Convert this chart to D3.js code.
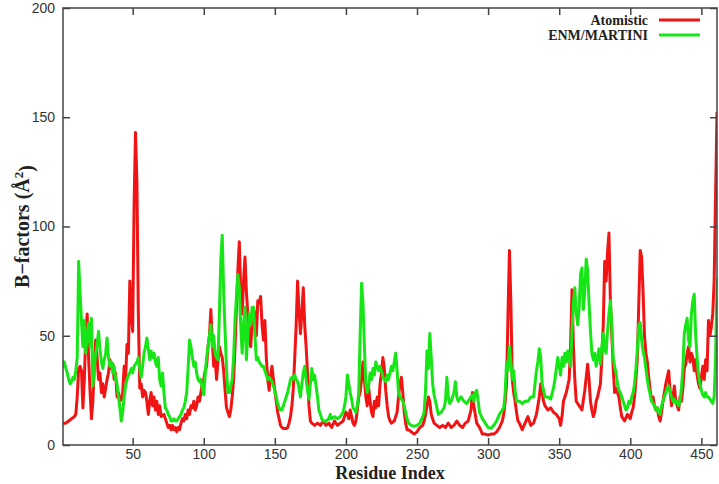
<!DOCTYPE html>
<html><head><meta charset="utf-8">
<script src="https://cdn.jsdelivr.net/npm/d3@7"></script>
<style>html,body{margin:0;padding:0;background:#fff;} svg{display:block;}</style>
</head><body><svg id="chart" width="719" height="484"></svg>
<script>
// ---------- data ----------
const xTicks = [50, 100, 150, 200, 250, 300, 350, 400, 450];
const yTicks = [0, 50, 100, 150, 200];
const seriesNames = ["Atomistic", "ENM/MARTINI"];

const atomisticResidue = [
1,3,5,7,9,10,11,12,13,14,
15,16,17,18,19,20,21,22,23,24,
25,26,27,28,29,30,31,32,33,34,
35,36,37,38,39,40,41,42,43,44,
45,46,47,48,49,50,51,52,53,54,
55,56,57,58,59,60,61,62,63,64,
65,66,67,68,69,70,72,73,74,75,
76,77,78,79,80,81,82,83,84,85,
86,87,88,89,90,91,92,93,94,95,
96,97,98,99,100,101,102,103,104,105,
106,107,108,109,110,111,112,113,114,115,
116,117,118,119,120,121,122,123,124,125,
126,127,128,129,130,131,132,133,134,135,
136,137,138,139,140,141,142,143,144,145,
146,147,148,149,150,151,152,153,154,155,
156,157,158,159,160,161,162,163,164,165,
166,167,168,169,170,171,172,173,174,175,
176,178,180,182,184,186,188,190,192,194,
196,198,199,200,201,202,203,204,205,206,
207,208,209,210,211,212,213,214,215,216,
217,218,219,220,221,222,223,224,225,226,
227,228,229,230,231,232,234,236,237,238,
239,240,241,242,243,244,246,248,250,252,
254,255,256,257,258,259,260,261,262,264,
266,268,270,272,274,276,278,280,282,284,
286,288,289,290,291,292,293,294,296,298,
300,302,304,306,308,310,311,312,313,314,
315,316,317,318,319,320,321,322,324,326,
328,330,332,334,336,337,338,339,340,342,
344,346,348,350,351,352,353,355,357,358,
359,360,361,362,364,366,368,370,371,372,
373,374,375,376,377,378,379,380,381,382,
383,384,385,386,387,388,389,390,392,393,
394,395,396,398,400,401,402,403,404,405,
406,407,408,409,410,411,412,413,414,415,
416,417,418,419,420,421,422,423,424,425,
426,427,428,429,430,431,432,434,435,436,
437,438,439,440,441,442,443,444,445,446,
447,448,449,450,451,452,453,454,455,456,
457,458,459,460,461];
const atomisticB = [
10,10,11,12,13,14,22,35,36,34,
17,30,50,60,40,25,12,20,35,48,
40,30,33,24,28,22,26,30,33,39,
35,37,30,33,22,24,20,21,24,36,
30,46,42,75,60,52,110,143,120,60,
26,28,22,25,24,20,14,20,24,18,
22,16,20,14,18,13,14,12,10,8,
9,7,9,7,8,6,8,7,10,12,
11,14,12,16,14,18,17,20,16,18,
22,20,24,28,30,34,36,45,50,62,
48,36,40,30,38,45,42,40,34,25,
17,15,13,16,22,30,45,63,80,93,
70,60,75,86,70,60,50,45,55,62,
60,50,66,65,68,55,48,57,40,30,
25,32,36,30,25,20,15,12,9,8,
7.5,7.5,7.5,8,10,13,18,26,40,55,
75,62,51,60,72,55,45,33,18,11,
10,9,10,9,11,9,10,8,11,9,
10,11,13,15,14,12,16,13,10,9,
11,16,22,24,30,38,30,22,18,26,
20,15,13,20,17,22,18,28,33,40,
35,25,18,13,11,10,11,15,22,28,
31,24,15,10,7,7,6,5,6,8,
9,11,14,18,22,20,14,12,10,9,
8,9,8,10,8,9,11,9,8,10,
11,16,24,18,14,10,9,8,5,5,
4.6,5,5,6,8,11,14,20,28,60,
89,66,30,24,20,15,11,10,7,10,
13,9,10,14,22,28,24,20,18,16,
17,15,14,12,9,13,20,24,30,45,
71,45,30,20,18,16,25,37,30,20,
16,13,15,20,22,25,28,40,55,84,
75,88,97,66,51,35,24,26,22,17,
13,12,11,14,12,15,17,22,30,40,
65,89,86,70,50,42,38,31,25,20,
22,18,16,17,13,11,15,20,24,28,
31,34,25,18,22,27,20,16,22,20,
26,35,37,42,45,38,42,40,34,39,
32,28,26,31,36,30,39,34,57,50,
54,60,75,115,152];

const martiniResidue = [
1,2,3,4,5,6,7,8,9,10,
11,12,13,14,15,16,17,18,19,20,
21,22,23,24,25,26,27,28,29,30,
31,32,33,34,35,36,37,38,39,40,
41,42,43,44,45,46,47,48,49,50,
51,52,53,54,55,56,57,58,59,60,
61,62,63,64,65,66,67,68,69,70,
71,72,73,74,75,76,77,78,79,80,
81,82,83,84,85,86,87,88,89,90,
91,92,93,94,95,96,97,98,99,100,
101,102,103,104,105,106,107,108,109,110,
111,112,113,114,115,116,117,118,119,120,
121,122,123,124,125,126,127,128,129,130,
131,132,133,134,135,136,137,138,139,140,
141,142,143,144,145,146,147,148,149,150,
151,152,153,154,155,156,157,158,159,160,
161,162,163,164,165,166,167,168,169,170,
171,172,173,174,175,176,177,178,179,180,
181,182,183,184,186,188,189,190,192,194,
196,197,198,199,200,201,202,203,204,205,
206,207,208,209,210,211,212,213,214,215,
216,217,218,219,220,221,222,223,224,225,
226,227,228,229,230,231,232,233,234,235,
236,237,238,239,240,241,242,243,244,246,
248,250,252,254,255,256,257,258,259,260,
261,262,263,264,265,267,269,270,271,272,
273,274,275,276,277,278,279,281,283,285,
287,289,290,291,292,293,294,296,298,300,
302,304,306,308,310,311,312,313,314,315,
316,317,318,319,320,322,324,326,328,330,
332,333,334,335,336,337,338,339,340,342,
344,346,347,348,349,350,351,352,353,354,
355,356,357,358,359,360,361,362,363,364,
365,366,367,368,369,370,371,372,373,374,
375,376,377,378,379,380,381,382,383,384,
385,386,387,388,389,390,391,392,393,394,
395,396,397,398,399,400,401,402,403,404,
405,406,407,408,409,410,411,412,413,414,
415,416,417,418,419,420,421,422,423,424,
425,426,427,428,429,430,431,432,433,434,
435,436,437,438,439,440,441,442,443,444,
445,446,447,448,449,450,451,452,453,454,
455,456,457,458,459,460,461];
const martiniB = [
36,38,35,33,30,28,29,31,30,34,
40,84,70,57,45,57,42,50,56,45,
58,27,35,42,46,52,44,38,35,39,
42,49,40,36,38,33,36,30,28,22,
17,11,15,22,27,30,32,33,35,33,
36,37,38,40,35,31,36,42,45,49,
44,39,43,40,42,38,36,40,30,27,
33,24,17,16,14,13,11,11,12,11,
11,12,13,14,16,17,20,24,35,48,
45,40,36,38,33,30,29,30,26,23,
32,40,45,50,55,45,50,42,40,39,
60,85,96,70,52,35,24,24,27,30,
40,57,68,78,72,55,42,55,63,39,
50,60,55,63,63,50,39,40,38,37,
36,36,34,32,30,31,30,29,27,25,
22,19,17,16,16,18,20,22,24,27,
30,31,30,32,30,29,26,22,28,33,
36,30,25,21,28,35,30,32,27,22,
16,14,12,11,11,12,14,12,13,12,
13,14,15,18,22,32,28,24,21,17,
16,15,18,24,50,74,65,45,28,24,
27,33,30,35,32,38,36,34,36,34,
31,30,29,32,30,33,36,34,38,42,
34,24,22,21,20,18,15,12,10,9,
8.5,9,10,13,15,25,43,35,51,40,
28,23,20,17,14,15,17,20,31,22,
19,20,22,24,29,22,20,22,20,19,
21,23,20,24,25,20,15,12,10,8,
7.6,9,11,14,16,17,24,38,34,45,
38,30,34,25,20,20,19,20,20,22,
22,28,34,38,44,40,28,25,22,22,
21,26,30,35,40,36,32,40,36,42,
38,43,40,36,52,65,72,60,55,62,
78,81,62,70,85,80,65,52,42,39,
42,36,40,44,37,45,51,44,42,52,
60,66,55,40,36,33,28,25,24,22,
20,18,16,17,20,19,22,24,28,35,
44,55,56,48,43,40,35,30,26,23,
20,19,18,16,17,15,14,18,20,22,
24,26,27,24,22,20,21,19,20,18,
20,26,35,51,55,58,48,45,60,66,
69,50,40,32,28,25,23,22,24,22,
22,21,20,19,22,40,76];

const colors = ["#f01414", "#16e616"];

// ---------- chart ----------
const svg = d3.select("#chart");
const plot = {left: 63, right: 717, top: 8, bottom: 445};
const x = d3.scaleLinear().domain([1, 461]).range([plot.left, plot.right]);
const y = d3.scaleLinear().domain([0, 200]).range([plot.bottom, plot.top]);

svg.append("defs").append("clipPath").attr("id", "clip")
  .append("rect").attr("x", plot.left).attr("y", plot.top)
  .attr("width", plot.right - plot.left).attr("height", plot.bottom - plot.top);

const series = [
  {name: seriesNames[0], color: colors[0], pts: atomisticResidue.map((r, i) => [r, atomisticB[i]])},
  {name: seriesNames[1], color: colors[1], pts: martiniResidue.map((r, i) => [r, martiniB[i]])}
];

const line = d3.line().x(d => x(d[0])).y(d => y(d[1]));
svg.append("g").attr("clip-path", "url(#clip)")
  .selectAll("path").data(series).join("path")
  .attr("d", d => line(d.pts))
  .attr("fill", "none").attr("stroke", d => d.color)
  .attr("stroke-width", 3).attr("stroke-linejoin", "round").attr("stroke-linecap", "round");

const tickFont = "'Liberation Sans', Arial, sans-serif";
const axisColor = "#444";

function styleAxis(g) {
  g.select(".domain").remove();
  g.selectAll(".tick line").attr("stroke", axisColor).attr("stroke-width", 1.5);
  g.selectAll(".tick text").attr("fill", "#333").style("font-family", tickFont).style("font-size", "14px");
}

svg.append("g").attr("transform", `translate(0,${plot.bottom})`)
  .call(d3.axisBottom(x).tickValues(xTicks).tickSize(-7).tickPadding(4)).call(styleAxis);
svg.append("g").attr("transform", `translate(0,${plot.top})`)
  .call(d3.axisTop(x).tickValues(xTicks).tickSize(-7).tickFormat("")).call(styleAxis);
svg.append("g").attr("transform", `translate(${plot.left},0)`)
  .call(d3.axisLeft(y).tickValues(yTicks).tickSize(-7).tickPadding(8)).call(styleAxis);
svg.append("g").attr("transform", `translate(${plot.right},0)`)
  .call(d3.axisRight(y).tickValues(yTicks).tickSize(-7).tickFormat("")).call(styleAxis);

svg.append("rect")
  .attr("x", plot.left).attr("y", plot.top)
  .attr("width", plot.right - plot.left).attr("height", plot.bottom - plot.top)
  .attr("fill", "none").attr("stroke", axisColor).attr("stroke-width", 1.5);

const serif = "'Liberation Serif', 'Times New Roman', serif";

// legend
const legend = svg.append("g");
series.forEach((s, i) => {
  const ly = 20 + i * 15;
  legend.append("text").attr("x", 648).attr("y", ly + 5)
    .attr("text-anchor", "end").style("font-family", serif).style("font-weight", "bold")
    .style("font-size", "14px").attr("fill", "#222").text(s.name);
  legend.append("line").attr("x1", 659).attr("x2", 700).attr("y1", ly).attr("y2", ly)
    .attr("stroke", s.color).attr("stroke-width", 3);
});

// axis titles
svg.append("text").attr("x", (plot.left + plot.right) / 2).attr("y", 479)
  .attr("text-anchor", "middle").style("font-family", serif).style("font-weight", "bold")
  .style("font-size", "18px").attr("fill", "#222").text("Residue Index");

const yt = svg.append("text")
  .attr("transform", `translate(29,${(plot.top + plot.bottom) / 2}) rotate(-90)`)
  .attr("text-anchor", "middle").style("font-family", serif).style("font-weight", "bold")
  .style("font-size", "20px").attr("fill", "#222");
yt.append("tspan").text("B\u2212factors (\u00C5");
yt.append("tspan").attr("dy", "-0.5em").style("font-size", "13px").text("2");
yt.append("tspan").attr("dy", "0.5em").text(")");
</script></body></html>
